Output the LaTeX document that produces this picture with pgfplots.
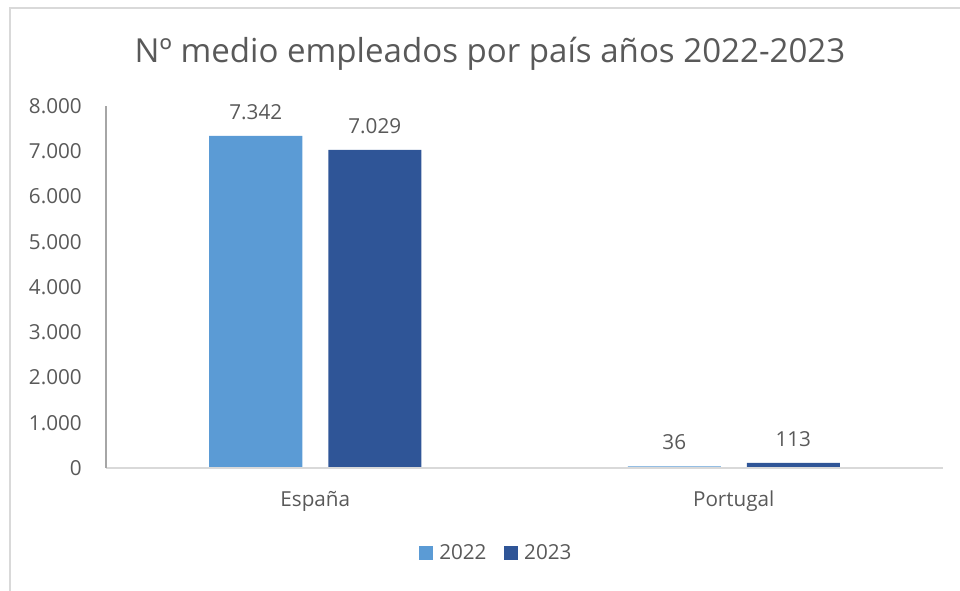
\documentclass[border=0pt]{standalone}
\usepackage{fontspec}
\setmainfont{Open Sans}
\usepackage{pgfplots}
\pgfplotsset{compat=1.18}
\definecolor{c22}{HTML}{5B9BD5}
\definecolor{c23}{HTML}{2F5597}
\definecolor{txt}{HTML}{595959}
\definecolor{frame}{HTML}{D9D9D9}
\definecolor{yline}{HTML}{A6A6A6}
\begin{document}
\begin{tikzpicture}
\useasboundingbox (-79.5pt,-91.5pt) rectangle (640.5pt,351pt);
\draw[frame, line width=1.5pt] (-72pt,-100pt) -- (-72pt,345pt) -- (660pt,345pt);
\node[font=\fontsize{24.8}{30}\selectfont, text=txt] at (288pt,311pt) {Nº medio empleados por país años 2022-2023};
\begin{axis}[
  at={(0pt,0pt)}, anchor=south west,
  width=627.75pt, height=271.5pt, scale only axis,
  xmin=-0.5, xmax=1.5, ymin=0, ymax=8000,
  xtick={0,1}, xticklabels={España,Portugal},
  ytick={0,1000,...,8000},
  scaled y ticks=false,
  /pgf/number format/.cd, 1000 sep={.}, assume math mode=true, /pgfplots/.cd,
  axis on top,
  axis lines=left,
  axis line style={-},
  x axis line style={frame, line width=2pt},
  y axis line style={yline, line width=1pt},
  major tick length=0pt,
  tick style={draw=none},
  tick label style={font=\fontsize{15.5}{19}\selectfont, text=txt, inner sep=0pt},
  yticklabel style={anchor=east, xshift=-18pt},
  xticklabel style={anchor=base, yshift=-28.5pt},
  ybar=19.5pt, bar width=69.75pt,
  nodes near coords,
  every node near coord/.append style={font=\fontsize{15.5}{19}\selectfont, text=txt, inner sep=0pt, anchor=south, yshift=12pt},
  legend columns=2,
  legend style={at={(rel axis cs:0.4648,-0.2348)}, anchor=center, draw=none, fill=none,
    inner sep=0pt, column sep=5pt,
    nodes={inner sep=0pt, font=\fontsize{15.5}{19}\selectfont, text=txt},
    /tikz/every even column/.append style={column sep=12.75pt}},
  legend image code/.code={\fill[#1] (0pt,-5.25pt) rectangle (10.5pt,5.25pt);},
]
\addplot[fill=c22, draw=none] coordinates {(0,7342) (1,36)};
\addplot[fill=c23, draw=none] coordinates {(0,7029) (1,113)};
\legend{2022,2023}
\end{axis}
\end{tikzpicture}
\end{document}
